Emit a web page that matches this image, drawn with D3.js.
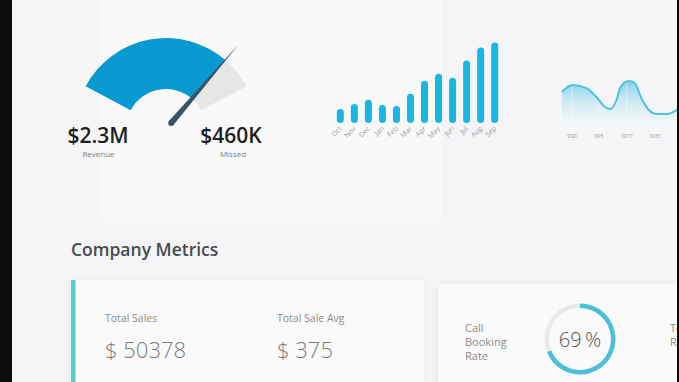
<!DOCTYPE html>
<html>
<head>
<meta charset="utf-8">
<script src="https://cdn.jsdelivr.net/npm/d3@7"></script>
<style>
  html, body { margin: 0; padding: 0; background: #0c0c0c; overflow: hidden; }
  svg { display: block; font-family: "Open Sans", "Noto Sans", sans-serif; }
</style>
</head>
<body>
<script>
// gauge
const gaugeRevenue = "$2.3M", gaugeMissed = "$460K";
const gaugeShare = 0.83; // part of the arc filled in blue

// monthly bars
const months = ["Oct","Nov","Dec","Jan","Feb","Mar","Apr","May","Jun","Jul","Aug","Sep"];
const monthValues = [14, 19, 23, 18, 17, 29, 42, 49, 45, 62, 75, 80];

// area sparkline
const trendDates = ["2019-09-15","2019-09-20","2019-09-27","2019-10-02","2019-10-07","2019-10-09","2019-10-12","2019-10-14","2019-10-18","2019-10-21","2019-10-24","2019-10-28","2019-11-01","2019-11-06","2019-11-12"];
const trendValues = [38, 45, 42, 33, 22, 21, 30, 43, 49, 47, 33, 20, 16, 16, 22];
const trendTicks = ["2019-09-20","2019-10-03","2019-10-17","2019-10-31"];

// metrics cards
const metricLabels = ["Total Sales", "Total Sale Avg"];
const metricValues = ["$ 50378", "$ 375"];
const bookingRate = 0.69;

const W = 679, H = 382;
const svg = d3.select("body").append("svg")
  .attr("width", W).attr("height", H);

const defs = svg.append("defs");

// page background (dark strips at the borders)
svg.append("rect").attr("x", 12).attr("y", 0).attr("width", 665).attr("height", H)
  .attr("fill", "#f5f5f7");
svg.append("rect").attr("x", 100).attr("y", -20).attr("width", 342).attr("height", 245)
  .attr("rx", 14).attr("fill", "#f9f9fa");

// ---- gauge ----
const gc = [166, 129];
const g1 = svg.append("g").attr("transform", `translate(${gc})`);
const a0 = -62 * Math.PI / 180, a1 = 62 * Math.PI / 180;
const gScale = d3.scaleLinear().domain([0, 1]).range([a0, a1]);
const arc = d3.arc().innerRadius(40).outerRadius(91);
g1.append("path").attr("d", arc({startAngle: gScale(gaugeShare), endAngle: a1})).attr("fill", "#e6e6e6");
g1.append("path").attr("d", arc({startAngle: a0, endAngle: gScale(gaugeShare)})).attr("fill", "#0799cf");

const na = gScale(gaugeShare) - 0.005;
const px = (r, a) => [r * Math.sin(a), -r * Math.cos(a)];
const nb = px(8, na), nt = px(111, na);
const perp = [Math.cos(na), Math.sin(na)];
g1.append("path")
  .attr("d", `M${nb[0]+perp[0]*3},${nb[1]+perp[1]*3} L${nt[0]},${nt[1]} L${nb[0]-perp[0]*3},${nb[1]-perp[1]*3} Z`)
  .attr("fill", "#3a5366");
g1.append("circle").attr("cx", nb[0]).attr("cy", nb[1]).attr("r", 3).attr("fill", "#3a5366");

svg.append("text").attr("x", 98).attr("y", 143).attr("text-anchor", "middle")
  .style("font-size", "21px").style("font-weight", 600).attr("fill", "#1e1e1e").text(gaugeRevenue);
svg.append("text").attr("x", 98.5).attr("y", 157).attr("text-anchor", "middle")
  .style("font-size", "8px").attr("fill", "#808080").text("Revenue");
svg.append("text").attr("x", 231).attr("y", 143).attr("text-anchor", "middle")
  .style("font-size", "21px").style("font-weight", 600).attr("fill", "#1e1e1e").text(gaugeMissed);
svg.append("text").attr("x", 233).attr("y", 157).attr("text-anchor", "middle")
  .style("font-size", "8px").attr("fill", "#808080").text("Missed");

// ---- bars ----
const x = d3.scaleBand().domain(months).range([334, 501]).paddingInner(0.5).paddingOuter(0.2);
const y = d3.scaleLinear().domain([0, 80]).range([123, 42.5]);
svg.append("g").selectAll("rect").data(months).join("rect")
  .attr("x", (d) => x(d))
  .attr("y", (d, i) => y(monthValues[i]))
  .attr("width", x.bandwidth())
  .attr("height", (d, i) => y(0) - y(monthValues[i]))
  .attr("rx", x.bandwidth() / 2)
  .attr("fill", "#19b6e3");
svg.append("g").selectAll("text").data(months).join("text")
  .attr("transform", (d) => `translate(${x(d) + x.bandwidth() / 2 + 2},${129}) rotate(-45)`)
  .attr("text-anchor", "end")
  .style("font-size", "7px").attr("fill", "#9a9a9a").text((d) => d);

// ---- area ----
const parse = d3.timeParse("%Y-%m-%d");
const tx = d3.scaleTime().domain([parse("2019-09-20"), parse("2019-10-31")]).range([572, 655]);
const ty = d3.scaleLinear().domain([0, 50]).range([130, 80]);
const pts = trendDates.map((d, i) => [parse(d), trendValues[i]]);

const grad = defs.append("linearGradient").attr("id", "ag").attr("x1", 0).attr("x2", 0).attr("y1", 0).attr("y2", 1);
grad.append("stop").attr("offset", "0%").attr("stop-color", "#6fc9e6").attr("stop-opacity", 0.85);
grad.append("stop").attr("offset", "100%").attr("stop-color", "#ffffff").attr("stop-opacity", 0.1);

svg.append("path").datum(pts)
  .attr("d", d3.area().x((d) => tx(d[0])).y0(131).y1((d) => ty(d[1])).curve(d3.curveMonotoneX))
  .attr("fill", "url(#ag)");
svg.append("g").selectAll("line").data(trendTicks.map(parse)).join("line")
  .attr("x1", (d) => tx(d)).attr("x2", (d) => tx(d)).attr("y1", 80).attr("y2", 131)
  .attr("stroke", "#ffffff").attr("stroke-opacity", 0.45);
svg.append("path").datum(pts)
  .attr("d", d3.line().x((d) => tx(d[0])).y((d) => ty(d[1])).curve(d3.curveMonotoneX))
  .attr("fill", "none").attr("stroke", "#4fc3e4").attr("stroke-width", 2);
svg.append("g").selectAll("text").data(trendTicks.map(parse)).join("text")
  .attr("x", (d) => tx(d)).attr("y", 138).attr("text-anchor", "middle")
  .style("font-size", "4.5px").attr("fill", "#8a8a8a").text(d3.timeFormat("%-m/%-d"));

// ---- company metrics ----
svg.append("text").attr("x", 71).attr("y", 256)
  .style("font-size", "17.5px").style("font-weight", 600).attr("fill", "#474b50").text("Company Metrics");

const shadow = defs.append("filter").attr("id", "sh").attr("x", -0.1).attr("y", -0.2).attr("width", 1.2).attr("height", 1.5);
shadow.append("feDropShadow").attr("dx", 0).attr("dy", 1).attr("stdDeviation", 3).attr("flood-color", "#000").attr("flood-opacity", 0.06);

svg.append("rect").attr("x", 71).attr("y", 280).attr("width", 353).attr("height", 120).attr("rx", 4)
  .attr("fill", "#fafafb").attr("filter", "url(#sh)");
svg.append("rect").attr("x", 71).attr("y", 280).attr("width", 4.5).attr("height", 110).attr("fill", "#4dd0cf");

svg.append("rect").attr("x", 438).attr("y", 284).attr("width", 280).attr("height", 120).attr("rx", 4)
  .attr("fill", "#fafafb").attr("filter", "url(#sh)");

const mx = [105, 277];
svg.append("g").selectAll("text").data(metricLabels).join("text")
  .attr("x", (d, i) => mx[i]).attr("y", 322)
  .style("font-size", "10.5px").attr("fill", "#8a8a8a").text((d) => d);
svg.append("g").selectAll("text").data(metricValues).join("text")
  .attr("x", (d, i) => mx[i]).attr("y", 358)
  .style("font-size", "22px").style("font-weight", 300).attr("fill", "#7a7a7a").text((d) => d);

svg.append("g").selectAll("text").data(["Call", "Booking", "Rate"]).join("text")
  .attr("x", 465).attr("y", (d, i) => 332 + i * 14.2)
  .style("font-size", "11px").attr("fill", "#8a8a8a").text((d) => d);

const dc = svg.append("g").attr("transform", "translate(580,339)");
const ring = d3.arc().innerRadius(31).outerRadius(35.5);
dc.append("path").attr("d", ring({startAngle: 0, endAngle: 2 * Math.PI})).attr("fill", "#e9e9e9");
dc.append("path").attr("d", ring({startAngle: 0, endAngle: 2 * Math.PI * bookingRate})).attr("fill", "#4cbfdc");
dc.append("text").attr("y", 7.5).attr("text-anchor", "middle")
  .style("font-size", "20px").style("font-weight", 300).attr("fill", "#555").text(d3.format(".0f")(bookingRate * 100) + "\u2009%");

svg.append("g").selectAll("text").data(["Total", "Rate"]).join("text")
  .attr("x", 670).attr("y", (d, i) => 332 + i * 14.2)
  .style("font-size", "11px").attr("fill", "#8a8a8a").text((d) => d);

// right border strip
svg.append("rect").attr("x", 677).attr("y", 0).attr("width", 2).attr("height", H).attr("fill", "#0c0c0c");
</script>
</body>
</html>
